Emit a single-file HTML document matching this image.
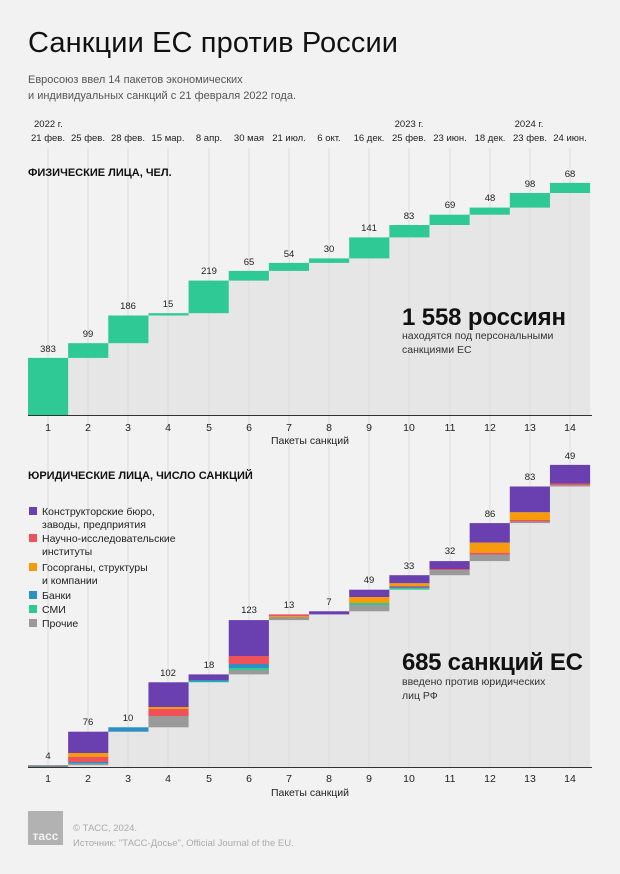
<!DOCTYPE html>
<html><head><meta charset="utf-8"><style>
body{margin:0;background:#f2f2f2;}
svg{display:block;font-family:"Liberation Sans",sans-serif;}
</style></head><body>
<svg width="620" height="874" viewBox="0 0 620 874" xmlns="http://www.w3.org/2000/svg">
<rect width="620" height="874" fill="#f2f2f2"/>
<text x="28" y="52" font-size="29" fill="#111" textLength="370">Санкции ЕС против России</text>
<text x="28" y="83" font-size="11" fill="#555">Евросоюз ввел 14 пакетов экономических</text>
<text x="28" y="99" font-size="11" fill="#555">и индивидуальных санкций с 21 февраля 2022 года.</text>

<g font-size="9.5" fill="#222" text-anchor="middle">
<text x="34" y="127" text-anchor="start">2022 г.</text>
<text x="409" y="127">2023 г.</text>
<text x="529" y="127">2024 г.</text>
<text x="48" y="141">21 фев.</text><text x="88" y="141">25 фев.</text><text x="128" y="141">28 фев.</text><text x="168" y="141">15 мар.</text><text x="209" y="141">8 апр.</text><text x="249" y="141">30 мая</text><text x="289" y="141">21 июл.</text><text x="329" y="141">6 окт.</text><text x="369" y="141">16 дек.</text><text x="409" y="141">25 фев.</text><text x="450" y="141">23 июн.</text><text x="490" y="141">18 дек.</text><text x="530" y="141">23 фев.</text><text x="570" y="141">24 июн.</text>
</g>

<path d="M28,357.9 H68.15 V343.2 H108.3 V315.5 H148.45 V313.2 H188.6 V280.6 H228.75 V270.9 H268.9 V262.9 H309.05 V258.4 H349.2 V237.4 H389.35 V225 H429.5 V214.7 H469.65 V207.6 H509.8 V193 H549.95 V182.9 H590.1 V415 H28Z" fill="#e6e6e6"/>
<path d="M28,765.2 H68.15 V731.7 H108.3 V727.3 H148.45 V682.3 H188.6 V674.4 H228.75 V620.1 H268.9 V614.4 H309.05 V611.3 H349.2 V589.7 H389.35 V575.2 H429.5 V561.1 H469.65 V523.1 H509.8 V486.5 H549.95 V464.9 H590.1 V767 H28Z" fill="#e6e6e6"/>

<g stroke="#dcdcdc" stroke-width="1">
<line x1="48" y1="148" x2="48" y2="767"/><line x1="88" y1="148" x2="88" y2="767"/><line x1="128" y1="148" x2="128" y2="767"/><line x1="168" y1="148" x2="168" y2="767"/><line x1="209" y1="148" x2="209" y2="767"/><line x1="249" y1="148" x2="249" y2="767"/><line x1="289" y1="148" x2="289" y2="767"/><line x1="329" y1="148" x2="329" y2="767"/><line x1="369" y1="148" x2="369" y2="767"/><line x1="409" y1="148" x2="409" y2="767"/><line x1="450" y1="148" x2="450" y2="767"/><line x1="490" y1="148" x2="490" y2="767"/><line x1="530" y1="148" x2="530" y2="767"/><line x1="570" y1="148" x2="570" y2="767"/>
</g>

<text x="28" y="176" font-size="11" font-weight="bold" fill="#111">ФИЗИЧЕСКИЕ ЛИЦА, ЧЕЛ.</text>

<g fill="#2ec994">
<rect x="28" y="357.9" width="40.15" height="57.1"/>
<rect x="68.15" y="343.2" width="40.15" height="14.7"/>
<rect x="108.3" y="315.5" width="40.15" height="27.7"/>
<rect x="148.45" y="313.2" width="40.15" height="2.3"/>
<rect x="188.6" y="280.6" width="40.15" height="32.6"/>
<rect x="228.75" y="270.9" width="40.15" height="9.7"/>
<rect x="268.9" y="262.9" width="40.15" height="8"/>
<rect x="309.05" y="258.4" width="40.15" height="4.5"/>
<rect x="349.2" y="237.4" width="40.15" height="21"/>
<rect x="389.35" y="225" width="40.15" height="12.4"/>
<rect x="429.5" y="214.7" width="40.15" height="10.3"/>
<rect x="469.65" y="207.6" width="40.15" height="7.1"/>
<rect x="509.8" y="193" width="40.15" height="14.6"/>
<rect x="549.95" y="182.9" width="40.15" height="10.1"/>
</g>
<g font-size="9.5" fill="#222" text-anchor="middle">
<text x="48" y="352">383</text><text x="88" y="337">99</text><text x="128" y="309">186</text><text x="168" y="307">15</text><text x="209" y="274">219</text><text x="249" y="265">65</text><text x="289" y="257">54</text><text x="329" y="252">30</text><text x="369" y="231">141</text><text x="409" y="219">83</text><text x="450" y="208">69</text><text x="490" y="201">48</text><text x="530" y="187">98</text><text x="570" y="177">68</text>
</g>
<line x1="28" y1="415.5" x2="592" y2="415.5" stroke="#333" stroke-width="1"/>
<g font-size="10.5" fill="#222" text-anchor="middle">
<text x="48" y="431">1</text><text x="88" y="431">2</text><text x="128" y="431">3</text><text x="168" y="431">4</text><text x="209" y="431">5</text><text x="249" y="431">6</text><text x="289" y="431">7</text><text x="329" y="431">8</text><text x="369" y="431">9</text><text x="409" y="431">10</text><text x="450" y="431">11</text><text x="490" y="431">12</text><text x="530" y="431">13</text><text x="570" y="431">14</text>
<text x="310" y="444">Пакеты санкций</text>
</g>
<text x="402" y="325" font-size="24" font-weight="bold" fill="#111" textLength="164">1 558 россиян</text>
<text x="402" y="339" font-size="10.5" fill="#333">находятся под персональными</text>
<text x="402" y="353" font-size="10.5" fill="#333">санкциями ЕС</text>

<text x="28" y="479" font-size="11" font-weight="bold" fill="#111">ЮРИДИЧЕСКИЕ ЛИЦА, ЧИСЛО САНКЦИЙ</text>

<g font-size="10.5" fill="#222">
<rect x="29" y="507" width="8" height="8" fill="#6a3fb0"/><text x="42" y="515">Конструкторские бюро,</text><text x="42" y="528">заводы, предприятия</text>
<rect x="29" y="534" width="8" height="8" fill="#f0525a"/><text x="42" y="542">Научно-исследовательские</text><text x="42" y="555">институты</text>
<rect x="29" y="563" width="8" height="8" fill="#f59b0c"/><text x="42" y="571">Госорганы, структуры</text><text x="42" y="584">и компании</text>
<rect x="29" y="591" width="8" height="8" fill="#2e8fc4"/><text x="42" y="599">Банки</text>
<rect x="29" y="605" width="8" height="8" fill="#2ec994"/><text x="42" y="613">СМИ</text>
<rect x="29" y="619" width="8" height="8" fill="#9a9a9a"/><text x="42" y="627">Прочие</text>
</g>

<g>
<rect x="28" y="765.2" width="40.15" height="1.8" fill="#7a8a88"/>
<rect x="68.15" y="731.7" width="40.15" height="21.3" fill="#6a3fb0"/>
<rect x="68.15" y="753" width="40.15" height="4" fill="#f59b0c"/>
<rect x="68.15" y="757" width="40.15" height="5" fill="#f0525a"/>
<rect x="68.15" y="762" width="40.15" height="1.6" fill="#2e8fc4"/>
<rect x="68.15" y="763.6" width="40.15" height="1.6" fill="#9a9a9a"/>
<rect x="108.3" y="727.3" width="40.15" height="4.4" fill="#2e8fc4"/>
<rect x="148.45" y="682.3" width="40.15" height="24.7" fill="#6a3fb0"/>
<rect x="148.45" y="707" width="40.15" height="2" fill="#f59b0c"/>
<rect x="148.45" y="709" width="40.15" height="7" fill="#f0525a"/>
<rect x="148.45" y="716" width="40.15" height="11.3" fill="#9a9a9a"/>
<rect x="188.6" y="674.4" width="40.15" height="5.6" fill="#6a3fb0"/>
<rect x="188.6" y="680" width="40.15" height="1.5" fill="#2e8fc4"/>
<rect x="188.6" y="681.5" width="40.15" height="0.8" fill="#2ec994"/>
<rect x="228.75" y="620.1" width="40.15" height="35.9" fill="#6a3fb0"/>
<rect x="228.75" y="656" width="40.15" height="8" fill="#f0525a"/>
<rect x="228.75" y="664" width="40.15" height="4" fill="#2e8fc4"/>
<rect x="228.75" y="668" width="40.15" height="2" fill="#2ec994"/>
<rect x="228.75" y="670" width="40.15" height="4.4" fill="#9a9a9a"/>
<rect x="268.9" y="614.4" width="40.15" height="1.6" fill="#f0525a"/>
<rect x="268.9" y="616" width="40.15" height="1" fill="#f59b0c"/>
<rect x="268.9" y="617" width="40.15" height="3.1" fill="#9a9a9a"/>
<rect x="309.05" y="611.3" width="40.15" height="3.1" fill="#6a3fb0"/>
<rect x="349.2" y="589.7" width="40.15" height="7.3" fill="#6a3fb0"/>
<rect x="349.2" y="597" width="40.15" height="6" fill="#f59b0c"/>
<rect x="349.2" y="603" width="40.15" height="2" fill="#2ec994"/>
<rect x="349.2" y="605" width="40.15" height="6.3" fill="#9a9a9a"/>
<rect x="389.35" y="575.2" width="40.15" height="8.1" fill="#6a3fb0"/>
<rect x="389.35" y="583.3" width="40.15" height="2.7" fill="#f59b0c"/>
<rect x="389.35" y="586" width="40.15" height="1" fill="#f0525a"/>
<rect x="389.35" y="587" width="40.15" height="1.3" fill="#2e8fc4"/>
<rect x="389.35" y="588.3" width="40.15" height="1.4" fill="#2ec994"/>
<rect x="429.5" y="561.1" width="40.15" height="7.9" fill="#6a3fb0"/>
<rect x="429.5" y="569" width="40.15" height="1" fill="#f0525a"/>
<rect x="429.5" y="570" width="40.15" height="5.2" fill="#9a9a9a"/>
<rect x="469.65" y="523.1" width="40.15" height="19.6" fill="#6a3fb0"/>
<rect x="469.65" y="542.7" width="40.15" height="10" fill="#f59b0c"/>
<rect x="469.65" y="552.7" width="40.15" height="1.8" fill="#f0525a"/>
<rect x="469.65" y="554.5" width="40.15" height="6.6" fill="#9a9a9a"/>
<rect x="509.8" y="486.5" width="40.15" height="25.8" fill="#6a3fb0"/>
<rect x="509.8" y="512.3" width="40.15" height="7.7" fill="#f59b0c"/>
<rect x="509.8" y="520" width="40.15" height="1.5" fill="#f0525a"/>
<rect x="509.8" y="521.5" width="40.15" height="1.6" fill="#9a9a9a"/>
<rect x="549.95" y="464.9" width="40.15" height="18.6" fill="#6a3fb0"/>
<rect x="549.95" y="483.5" width="40.15" height="1.5" fill="#f0525a"/>
<rect x="549.95" y="485" width="40.15" height="1.5" fill="#9a9a9a"/>
</g>
<g font-size="9.5" fill="#222" text-anchor="middle">
<text x="48" y="759">4</text><text x="88" y="725">76</text><text x="128" y="721">10</text><text x="168" y="676">102</text><text x="209" y="668">18</text><text x="249" y="613">123</text><text x="289" y="608">13</text><text x="329" y="605">7</text><text x="369" y="583">49</text><text x="409" y="569">33</text><text x="450" y="554">32</text><text x="490" y="517">86</text><text x="530" y="480">83</text><text x="570" y="459">49</text>
</g>
<line x1="28" y1="767.5" x2="592" y2="767.5" stroke="#333" stroke-width="1"/>
<g font-size="10.5" fill="#222" text-anchor="middle">
<text x="48" y="782">1</text><text x="88" y="782">2</text><text x="128" y="782">3</text><text x="168" y="782">4</text><text x="209" y="782">5</text><text x="249" y="782">6</text><text x="289" y="782">7</text><text x="329" y="782">8</text><text x="369" y="782">9</text><text x="409" y="782">10</text><text x="450" y="782">11</text><text x="490" y="782">12</text><text x="530" y="782">13</text><text x="570" y="782">14</text>
<text x="310" y="796">Пакеты санкций</text>
</g>
<text x="402" y="670" font-size="24" font-weight="bold" fill="#111" textLength="181">685 санкций ЕС</text>
<text x="402" y="685" font-size="10.5" fill="#333">введено против юридических</text>
<text x="402" y="699" font-size="10.5" fill="#333">лиц РФ</text>

<rect x="28" y="811" width="35" height="34" fill="#b2b2b2"/>
<text x="45.5" y="840" font-size="12" font-weight="bold" fill="#f2f2f2" text-anchor="middle">тасс</text>
<text x="73" y="831" font-size="9.5" fill="#aaa">© ТАСС, 2024.</text>
<text x="73" y="846" font-size="9.5" fill="#aaa">Источник: "ТАСС-Досье", Official Journal of the EU.</text>
</svg>
</body></html>
